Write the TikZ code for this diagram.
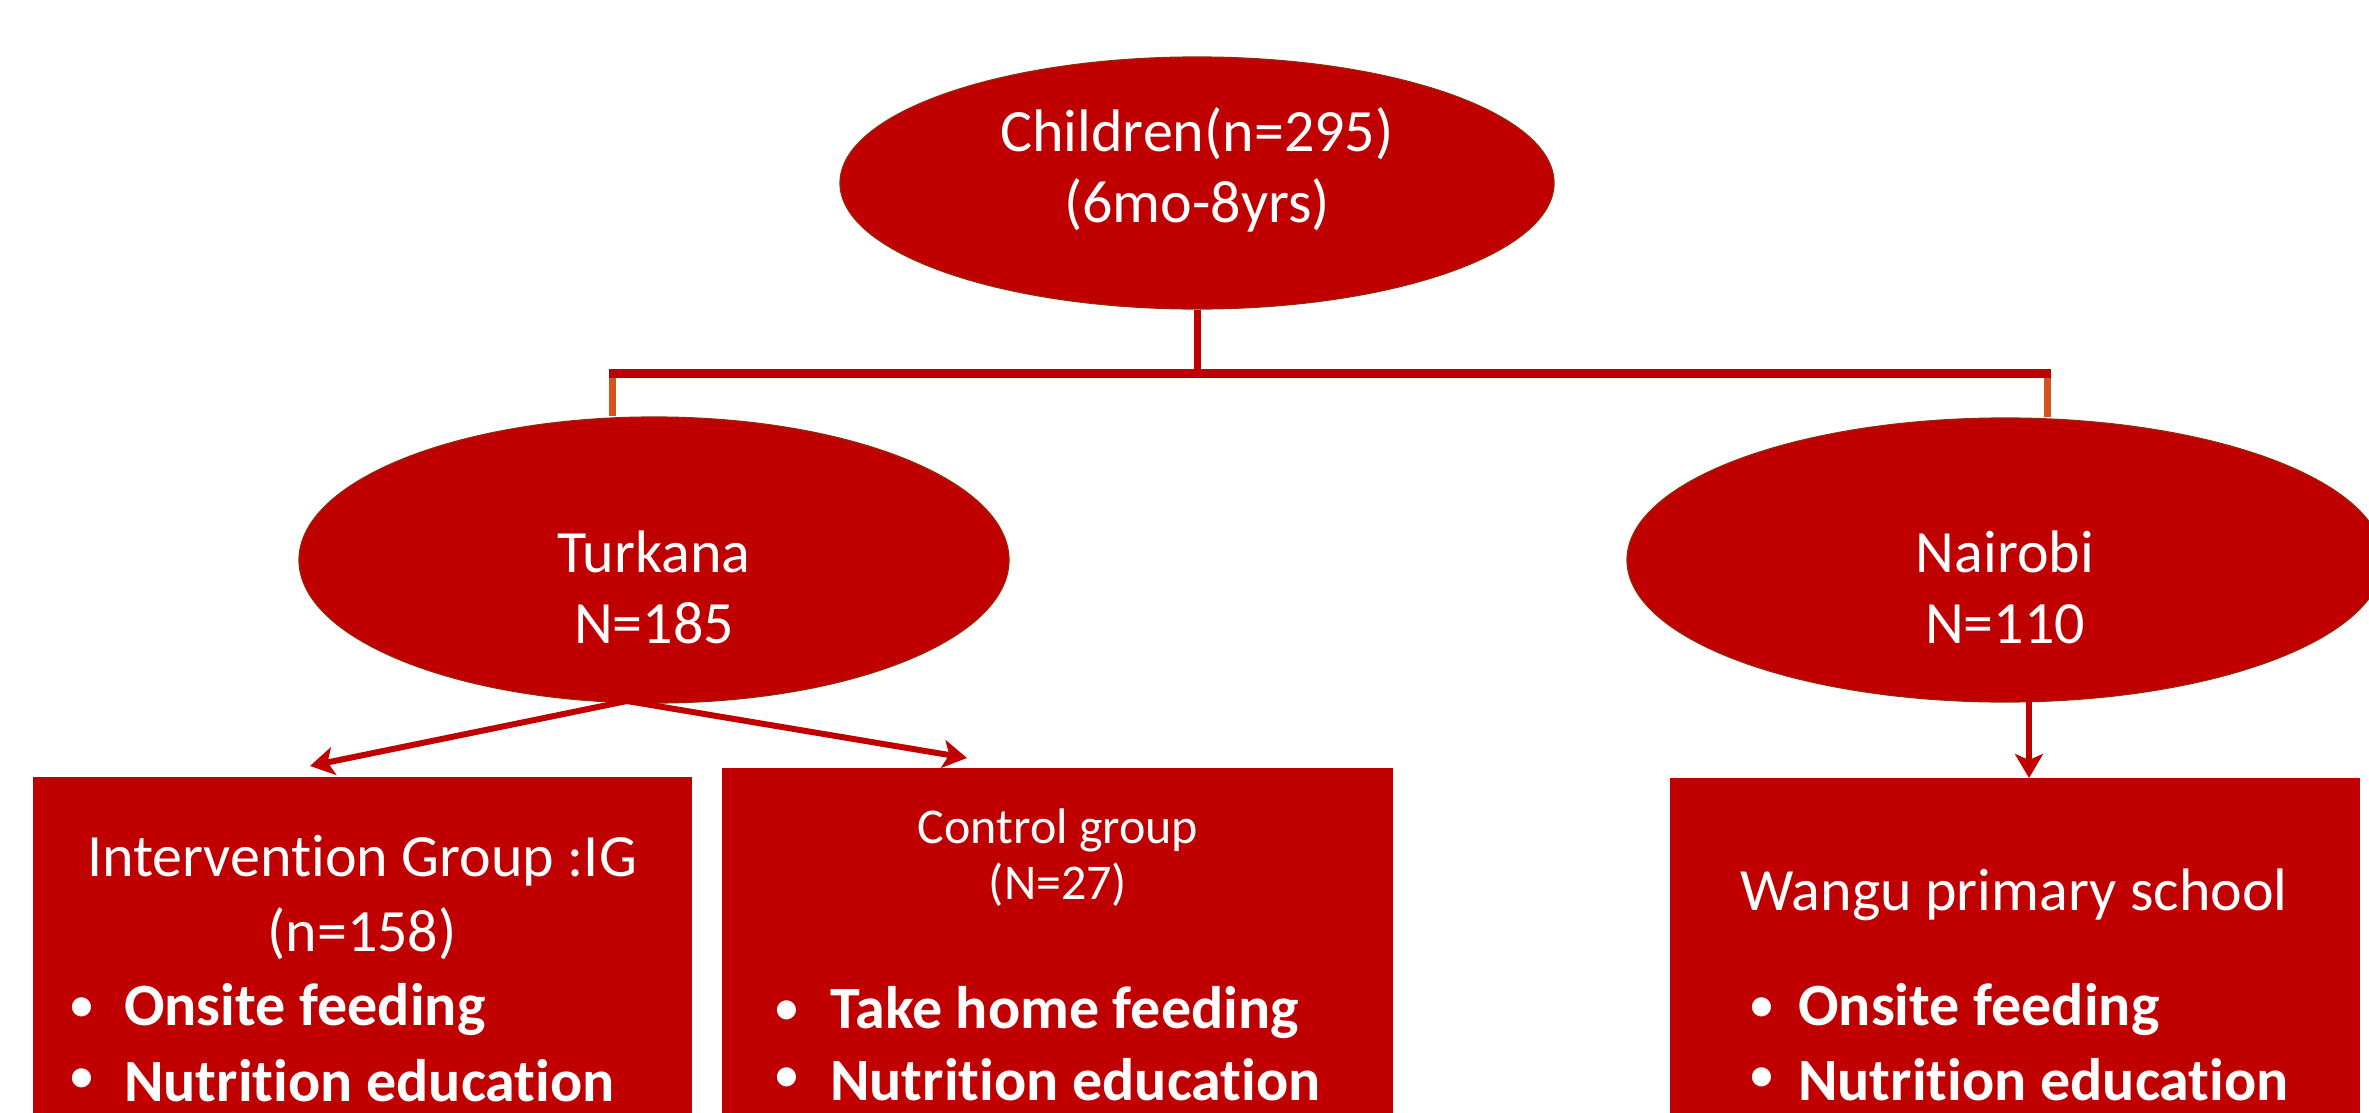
\documentclass[tikz,border=0pt]{standalone}
\usepackage{fontspec}
\setmainfont{Carlito}[Ligatures=NoCommon]
\usetikzlibrary{shapes.geometric,arrows.meta}
\definecolor{dred}{RGB}{192,0,0}
\definecolor{edge}{RGB}{150,40,10}
\definecolor{tickc}{RGB}{214,82,32}
\begin{document}
\begin{tikzpicture}[x=1pt,y=-1pt,
  oval/.style={ellipse, fill=dred, draw=edge, line width=1.2pt, inner sep=0pt},
  rbox/.style={rectangle, fill=dred, draw=none, inner sep=0pt, anchor=north west},
  big/.style={text=white, font=\fontsize{60}{71}\selectfont, align=center, inner sep=0pt},
  small/.style={text=white, font=\fontsize{50}{56}\selectfont, align=center, inner sep=0pt},
  bul/.style={text=white, font=\fontsize{60}{70}\selectfont\bfseries, anchor=west, inner sep=0pt},
  dot/.style={text=white, font=\fontsize{54}{70}\selectfont, anchor=west, inner sep=0pt},
  link/.style={draw=dred, line width=9pt},
  vlink/.style={draw=dred, line width=7pt},
  tickl/.style={draw=tickc, line width=7pt},
  arr/.style={draw=dred, line width=6pt, -{Stealth[length=24pt,width=28pt,inset=6pt]}}
]
\useasboundingbox[fill=white] (0,0) rectangle (2369,1113);

% boxes
\node[rbox, minimum width=659pt, minimum height=336pt] (ig) at (33,777) {};
\node[rbox, minimum width=671pt, minimum height=345pt] (cg) at (722,768) {};
\node[rbox, minimum width=690pt, minimum height=335pt] (wg) at (1670,778) {};

% connector coordinates
\coordinate (jc) at (1197,373);
\coordinate (jl) at (612,373);
\coordinate (jr) at (2047,373);
\coordinate (ts) at (627,701);
\coordinate (igtip) at (310,766);
\coordinate (cgtip) at (967,758);
\coordinate (ns) at (2029,701);

% ellipses
\node[oval, minimum width=714pt, minimum height=252pt] (top) at (1197,183) {};
\node[oval, minimum width=710pt, minimum height=286pt] (turk) at (654,560) {};
\node[oval, minimum width=756pt, minimum height=284pt] (nair) at (2005,560) {};

% connectors
\draw[vlink] (top.south) -- (jc);
\draw[tickl] (jl) -- (jl |- turk.north);
\draw[tickl] (jr) -- (jr |- nair.north);
\draw[link] ([xshift=-3.5pt]jl) -- ([xshift=3.5pt]jr);
\draw[arr] (ts) -- (igtip);
\draw[arr] (ts) -- (cgtip);
\draw[arr] (ns) -- (ns |- wg.north);

% ellipse texts
\node[big] (toptxt) at (1197,170) {Children(n=295)\\(6mo-8yrs)};
\node[big] (turktxt) at (654,587) {Turkana\\N=185};
\node[big] (nairtxt) at (2005,587) {Nairobi\\N=110};

% IG texts
\node[big] (igh1) at (362,861) {Intervention Group :IG};
\node[big] (igh2) at (362,934) {(n=158)};
\node[dot] (igb1d) at (68,1010) {•};
\node[bul] (igb1) at (124,1010) {Onsite feeding};
\node[dot] (igb2d) at (68,1081) {•};
\node[bul] (igb2) at (124,1081) {Nutrition education};

% Control texts
\node[small] (cgh1) at (1058,830) {Control group};
\node[small] (cgh2) at (1058,885) {(N=27)};
\node[dot] (cgb1d) at (773,1013) {•};
\node[bul] (cgb1) at (830,1013) {Take home feeding};
\node[dot] (cgb2d) at (773,1080) {•};
\node[bul] (cgb2) at (830,1080) {Nutrition education};

% Wangu texts
\node[big] (wgh) at (2014,895) {Wangu primary school};
\node[dot] (wgb1d) at (1748,1010) {•};
\node[bul] (wgb1) at (1798,1010) {Onsite feeding};
\node[dot] (wgb2d) at (1748,1080) {•};
\node[bul] (wgb2) at (1798,1080) {Nutrition education};
\end{tikzpicture}
\end{document}
